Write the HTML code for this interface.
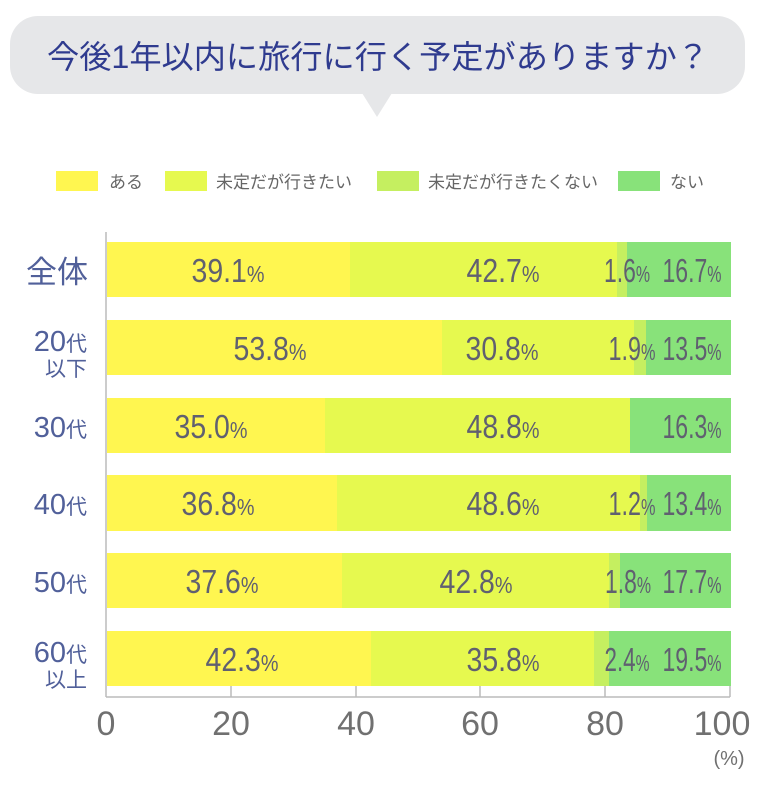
<!DOCTYPE html>
<html><head><meta charset="utf-8"><style>
html,body{margin:0;padding:0;background:#fff;width:757px;height:800px;overflow:hidden}
svg{display:block}
text{font-family:"Liberation Sans","Noto Sans CJK JP",sans-serif}
</style></head><body>
<svg width="757" height="800" viewBox="0 0 757 800" xmlns="http://www.w3.org/2000/svg">
<rect x="10" y="16" width="735" height="78" rx="28" fill="#e6e7e9"/>
<polygon points="362,93 392,93 377,117" fill="#e6e7e9"/>
<text x="378" y="68" text-anchor="middle" font-size="32" fill="#2f3b8f" font-family="'Noto Sans CJK JP',sans-serif" textLength="662" lengthAdjust="spacingAndGlyphs">今後1年以内に旅行に行く予定がありますか？</text>

<g font-size="17" fill="#666" font-family="'Noto Sans CJK JP',sans-serif">
<rect x="56" y="171" width="42" height="20" fill="#fff650"/><text x="109" y="188">ある</text>
<rect x="165" y="171" width="42" height="20" fill="#e6f94f"/><text x="216" y="188">未定だが行きたい</text>
<rect x="377" y="171" width="42" height="20" fill="#c5ef60"/><text x="428" y="188">未定だが行きたくない</text>
<rect x="618" y="171" width="42" height="20" fill="#88e27a"/><text x="670" y="188">ない</text>
</g>

<g stroke="#bbb" stroke-width="1.5" fill="none">
<line x1="106" y1="232" x2="106" y2="697"/>
<line x1="106" y1="697" x2="730" y2="697"/>
<line x1="231" y1="686" x2="231" y2="697"/>
<line x1="356" y1="686" x2="356" y2="697"/>
<line x1="480" y1="686" x2="480" y2="697"/>
<line x1="605" y1="686" x2="605" y2="697"/>
<line x1="730" y1="686" x2="730" y2="697"/>
</g>

<g>
<rect x="107" y="242" width="243" height="55" fill="#fff650"/><rect x="350" y="242" width="267" height="55" fill="#e6f94f"/><rect x="617" y="242" width="10" height="55" fill="#c5ef60"/><rect x="627" y="242" width="104" height="55" fill="#88e27a"/>
<rect x="107" y="320" width="335" height="55" fill="#fff650"/><rect x="442" y="320" width="192" height="55" fill="#e6f94f"/><rect x="634" y="320" width="12" height="55" fill="#c5ef60"/><rect x="646" y="320" width="85" height="55" fill="#88e27a"/>
<rect x="107" y="398" width="218" height="55" fill="#fff650"/><rect x="325" y="398" width="305" height="55" fill="#e6f94f"/><rect x="630" y="398" width="101" height="55" fill="#88e27a"/>
<rect x="107" y="475" width="230" height="56" fill="#fff650"/><rect x="337" y="475" width="303" height="56" fill="#e6f94f"/><rect x="640" y="475" width="7" height="56" fill="#c5ef60"/><rect x="647" y="475" width="84" height="56" fill="#88e27a"/>
<rect x="107" y="553" width="235" height="55" fill="#fff650"/><rect x="342" y="553" width="267" height="55" fill="#e6f94f"/><rect x="609" y="553" width="11" height="55" fill="#c5ef60"/><rect x="620" y="553" width="111" height="55" fill="#88e27a"/>
<rect x="107" y="631" width="264" height="55" fill="#fff650"/><rect x="371" y="631" width="223" height="55" fill="#e6f94f"/><rect x="594" y="631" width="15" height="55" fill="#c5ef60"/><rect x="609" y="631" width="122" height="55" fill="#88e27a"/>
</g>

<g fill="#606070" font-size="33" text-anchor="middle" lengthAdjust="spacingAndGlyphs">
<text x="228" y="282" textLength="73" lengthAdjust="spacingAndGlyphs">39.1<tspan font-size="23">%</tspan></text>
<text x="503" y="282" textLength="73" lengthAdjust="spacingAndGlyphs">42.7<tspan font-size="23">%</tspan></text>
<text x="627" y="282" textLength="46" lengthAdjust="spacingAndGlyphs">1.6<tspan font-size="23">%</tspan></text>
<text x="692" y="282" textLength="59" lengthAdjust="spacingAndGlyphs">16.7<tspan font-size="23">%</tspan></text>

<text x="270" y="360" textLength="73" lengthAdjust="spacingAndGlyphs">53.8<tspan font-size="23">%</tspan></text>
<text x="502" y="360" textLength="73" lengthAdjust="spacingAndGlyphs">30.8<tspan font-size="23">%</tspan></text>
<text x="632" y="360" textLength="47" lengthAdjust="spacingAndGlyphs">1.9<tspan font-size="23">%</tspan></text>
<text x="692" y="360" textLength="59" lengthAdjust="spacingAndGlyphs">13.5<tspan font-size="23">%</tspan></text>

<text x="211" y="438" textLength="73" lengthAdjust="spacingAndGlyphs">35.0<tspan font-size="23">%</tspan></text>
<text x="503" y="438" textLength="73" lengthAdjust="spacingAndGlyphs">48.8<tspan font-size="23">%</tspan></text>
<text x="692" y="438" textLength="59" lengthAdjust="spacingAndGlyphs">16.3<tspan font-size="23">%</tspan></text>

<text x="218" y="515" textLength="73" lengthAdjust="spacingAndGlyphs">36.8<tspan font-size="23">%</tspan></text>
<text x="503" y="515" textLength="73" lengthAdjust="spacingAndGlyphs">48.6<tspan font-size="23">%</tspan></text>
<text x="632" y="515" textLength="47" lengthAdjust="spacingAndGlyphs">1.2<tspan font-size="23">%</tspan></text>
<text x="692" y="515" textLength="59" lengthAdjust="spacingAndGlyphs">13.4<tspan font-size="23">%</tspan></text>

<text x="222" y="593" textLength="73" lengthAdjust="spacingAndGlyphs">37.6<tspan font-size="23">%</tspan></text>
<text x="476" y="593" textLength="73" lengthAdjust="spacingAndGlyphs">42.8<tspan font-size="23">%</tspan></text>
<text x="628" y="593" textLength="46" lengthAdjust="spacingAndGlyphs">1.8<tspan font-size="23">%</tspan></text>
<text x="692" y="593" textLength="59" lengthAdjust="spacingAndGlyphs">17.7<tspan font-size="23">%</tspan></text>

<text x="242" y="671" textLength="73" lengthAdjust="spacingAndGlyphs">42.3<tspan font-size="23">%</tspan></text>
<text x="503" y="671" textLength="73" lengthAdjust="spacingAndGlyphs">35.8<tspan font-size="23">%</tspan></text>
<text x="627" y="671" textLength="45" lengthAdjust="spacingAndGlyphs">2.4<tspan font-size="23">%</tspan></text>
<text x="692" y="671" textLength="59" lengthAdjust="spacingAndGlyphs">19.5<tspan font-size="23">%</tspan></text>
</g>

<g fill="#51609a" text-anchor="end">
<text x="88" y="283" font-size="31" font-family="'Noto Sans CJK JP',sans-serif">全体</text>
<text x="87" y="351" font-size="29">20<tspan font-size="21" font-family="'Noto Sans CJK JP',sans-serif">代</tspan></text>
<text x="87" y="376" font-size="21" font-family="'Noto Sans CJK JP',sans-serif">以下</text>
<text x="87" y="437" font-size="29">30<tspan font-size="21" font-family="'Noto Sans CJK JP',sans-serif">代</tspan></text>
<text x="87" y="514" font-size="29">40<tspan font-size="21" font-family="'Noto Sans CJK JP',sans-serif">代</tspan></text>
<text x="87" y="592" font-size="29">50<tspan font-size="21" font-family="'Noto Sans CJK JP',sans-serif">代</tspan></text>
<text x="87" y="662" font-size="29">60<tspan font-size="21" font-family="'Noto Sans CJK JP',sans-serif">代</tspan></text>
<text x="87" y="687" font-size="21" font-family="'Noto Sans CJK JP',sans-serif">以上</text>
</g>

<g fill="#707070" font-size="34" text-anchor="middle">
<text x="106" y="735">0</text>
<text x="231" y="735">20</text>
<text x="356" y="735">40</text>
<text x="480" y="735">60</text>
<text x="605" y="735">80</text>
<text x="722" y="735">100</text>
<text x="729" y="765" font-size="20">(%)</text>
</g>
</svg>
</body></html>
